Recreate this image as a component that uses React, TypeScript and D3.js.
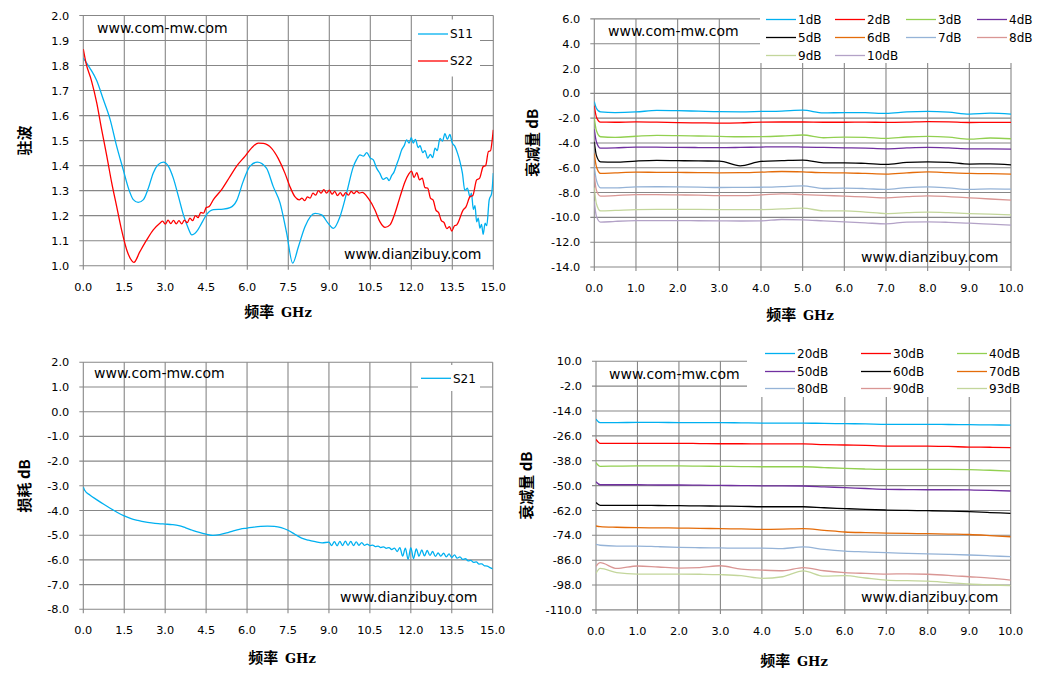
import React from 'react';
import * as d3 from 'd3';

// ---- data ----
const VSWR_X_TICKS = [0, 1.5, 3, 4.5, 6, 7.5, 9, 10.5, 12, 13.5, 15];
const VSWR_Y_TICKS = [1.0, 1.1, 1.2, 1.3, 1.4, 1.5, 1.6, 1.7, 1.8, 1.9, 2.0];
const LOSS_Y_TICKS = [2, 1, 0, -1, -2, -3, -4, -5, -6, -7, -8];
const ATT_X_TICKS = [0, 1, 2, 3, 4, 5, 6, 7, 8, 9, 10];
const ATT_LO_Y_TICKS = [6, 4, 2, 0, -2, -4, -6, -8, -10, -12, -14];
const ATT_HI_Y_TICKS = [10, -2, -14, -26, -38, -50, -62, -74, -86, -98, -110];

// S11 / S22 standing wave ratio, [GHz, VSWR]
const S11: [number, number][] = [
  [0, 1.83], [0.24, 1.79], [0.49, 1.74], [0.73, 1.665], [0.98, 1.585], [1.22, 1.478],
  [1.46, 1.384], [1.65, 1.31], [1.83, 1.264], [2.01, 1.253], [2.2, 1.264], [2.38, 1.31],
  [2.56, 1.371], [2.74, 1.404], [2.93, 1.414], [3.11, 1.398], [3.29, 1.351], [3.48, 1.277],
  [3.66, 1.204], [3.84, 1.15], [3.97, 1.123], [4.15, 1.137], [4.33, 1.17], [4.51, 1.204],
  [4.76, 1.224], [5.12, 1.226], [5.37, 1.232], [5.61, 1.26], [5.85, 1.337], [6.1, 1.398],
  [6.37, 1.414], [6.7, 1.39], [6.95, 1.316], [7.2, 1.25], [7.44, 1.13], [7.66, 1.01],
  [7.87, 1.076], [8.11, 1.156], [8.48, 1.209], [8.72, 1.203], [8.96, 1.169], [9.15, 1.149],
  [9.39, 1.196], [9.63, 1.289], [9.88, 1.396], [10.0, 1.425], [10.12, 1.443], [10.25, 1.438],
  [10.37, 1.452], [10.5, 1.43], [10.61, 1.423], [10.73, 1.39], [10.85, 1.369], [10.97, 1.345],
  [11.1, 1.352], [11.19, 1.34], [11.28, 1.36], [11.37, 1.375], [11.46, 1.403], [11.55, 1.43],
  [11.65, 1.463], [11.74, 1.48], [11.83, 1.503], [11.92, 1.49], [12.0, 1.512], [12.07, 1.49],
  [12.15, 1.505], [12.25, 1.472], [12.32, 1.48], [12.42, 1.452], [12.5, 1.46], [12.6, 1.43],
  [12.7, 1.445], [12.78, 1.432], [12.87, 1.47], [12.95, 1.46], [13.05, 1.509], [13.14, 1.498],
  [13.23, 1.528], [13.32, 1.505], [13.41, 1.525], [13.5, 1.49], [13.6, 1.476], [13.69, 1.45],
  [13.78, 1.416], [13.87, 1.37], [13.96, 1.3], [14.05, 1.31], [14.15, 1.275], [14.2, 1.29],
  [14.27, 1.225], [14.33, 1.24], [14.39, 1.175], [14.45, 1.19], [14.51, 1.15], [14.57, 1.165],
  [14.63, 1.125], [14.7, 1.17], [14.76, 1.16], [14.85, 1.263], [14.94, 1.289], [15, 1.37],
];
const S22: [number, number][] = [
  [0, 1.866], [0.1, 1.81], [0.3, 1.739], [0.49, 1.652], [0.67, 1.545], [0.86, 1.438],
  [1.04, 1.331], [1.22, 1.237], [1.4, 1.143], [1.59, 1.063], [1.77, 1.02], [1.85, 1.013],
  [2.07, 1.056], [2.32, 1.103], [2.56, 1.143], [2.8, 1.17], [2.9, 1.178], [3.0, 1.166],
  [3.1, 1.182], [3.2, 1.168], [3.3, 1.181], [3.4, 1.167], [3.5, 1.18], [3.6, 1.167],
  [3.7, 1.182], [3.8, 1.172], [3.9, 1.19], [4.0, 1.18], [4.1, 1.2], [4.2, 1.192],
  [4.3, 1.213], [4.4, 1.21], [4.5, 1.233], [4.6, 1.236], [4.76, 1.264], [5.06, 1.304],
  [5.37, 1.357], [5.61, 1.398], [5.92, 1.438], [6.16, 1.471], [6.4, 1.49], [6.59, 1.489],
  [6.89, 1.469], [7.13, 1.429], [7.38, 1.369], [7.56, 1.316], [7.74, 1.276], [7.9, 1.263],
  [8.0, 1.27], [8.1, 1.26], [8.2, 1.275], [8.3, 1.27], [8.4, 1.29], [8.5, 1.282],
  [8.6, 1.3], [8.7, 1.29], [8.8, 1.304], [8.9, 1.29], [9.0, 1.302], [9.1, 1.286],
  [9.2, 1.297], [9.3, 1.28], [9.4, 1.292], [9.5, 1.278], [9.6, 1.292], [9.7, 1.282],
  [9.8, 1.297], [9.9, 1.288], [10.0, 1.298], [10.1, 1.29], [10.2, 1.293], [10.43, 1.269],
  [10.67, 1.223], [10.85, 1.176], [11.04, 1.153], [11.22, 1.163], [11.4, 1.209], [11.59, 1.276],
  [11.77, 1.336], [11.9, 1.365], [12.01, 1.378], [12.1, 1.352], [12.2, 1.372], [12.3, 1.343],
  [12.4, 1.35], [12.5, 1.312], [12.6, 1.31], [12.7, 1.27], [12.8, 1.262], [12.9, 1.222],
  [13.0, 1.212], [13.1, 1.18], [13.2, 1.172], [13.3, 1.148], [13.4, 1.156], [13.48, 1.138],
  [13.58, 1.16], [13.66, 1.163], [13.9, 1.223], [14.0, 1.235], [14.15, 1.276], [14.25, 1.28],
  [14.39, 1.343], [14.5, 1.35], [14.63, 1.396], [14.72, 1.4], [14.82, 1.456], [14.9, 1.46],
  [14.96, 1.503], [15, 1.543],
];

// S21 insertion loss, [GHz, dB]
const S21: [number, number][] = [
  [0, -3.05], [0.05, -3.18], [0.25, -3.38], [0.5, -3.57], [0.75, -3.75], [1.0, -3.92],
  [1.25, -4.08], [1.5, -4.22], [1.75, -4.33], [2.0, -4.4], [2.25, -4.46], [2.5, -4.5],
  [2.75, -4.53], [3.0, -4.55], [3.25, -4.57], [3.5, -4.61], [3.75, -4.7], [4.0, -4.8],
  [4.25, -4.89], [4.5, -4.96], [4.75, -5.01], [5.0, -4.98], [5.25, -4.91], [5.5, -4.82],
  [5.75, -4.75], [6.0, -4.71], [6.25, -4.67], [6.5, -4.64], [6.75, -4.63], [7.0, -4.64],
  [7.25, -4.69], [7.5, -4.8], [7.75, -4.96], [8.0, -5.12], [8.25, -5.2], [8.5, -5.26],
  [8.75, -5.31], [9.0, -5.28], [9.1, -5.42], [9.2, -5.26], [9.3, -5.43], [9.4, -5.25],
  [9.5, -5.42], [9.6, -5.24], [9.7, -5.41], [9.8, -5.25], [9.9, -5.42], [10.0, -5.27],
  [10.1, -5.41], [10.2, -5.3], [10.3, -5.41], [10.4, -5.36], [10.5, -5.42], [10.6, -5.4],
  [10.7, -5.46], [10.8, -5.44], [10.9, -5.5], [11.0, -5.47], [11.1, -5.53], [11.2, -5.5],
  [11.3, -5.58], [11.4, -5.52], [11.5, -5.66], [11.6, -5.5], [11.7, -5.85], [11.8, -5.52],
  [11.9, -5.98], [12.0, -5.5], [12.1, -5.95], [12.2, -5.55], [12.3, -5.85], [12.4, -5.6],
  [12.5, -5.84], [12.6, -5.62], [12.7, -5.82], [12.8, -5.66], [12.9, -5.86], [13.0, -5.72],
  [13.1, -5.85], [13.2, -5.73], [13.3, -5.88], [13.4, -5.76], [13.5, -5.9], [13.6, -5.8],
  [13.7, -5.93], [13.8, -5.88], [13.9, -5.98], [14.0, -5.95], [14.1, -6.04], [14.2, -6.02],
  [14.3, -6.1], [14.4, -6.08], [14.5, -6.17], [14.6, -6.16], [14.7, -6.24], [14.8, -6.25],
  [14.9, -6.31], [15.0, -6.36],
];

// 1..10 dB attenuators
const ATT_LO_FREQ = [0, 0.05, 0.15, 0.5, 1, 1.5, 2, 2.5, 3, 3.5, 4, 4.5, 5, 5.5, 6, 6.5, 7, 7.5, 8, 8.5, 9, 9.5, 10];
const ATT_1DB = [-0.67, -1.2, -1.5, -1.55, -1.5, -1.38, -1.4, -1.44, -1.48, -1.49, -1.46, -1.43, -1.36, -1.58, -1.55, -1.56, -1.62, -1.5, -1.46, -1.52, -1.67, -1.6, -1.68];
const ATT_2DB = [-1.0, -1.9, -2.32, -2.33, -2.3, -2.32, -2.36, -2.38, -2.4, -2.38, -2.32, -2.31, -2.31, -2.33, -2.33, -2.32, -2.34, -2.32, -2.28, -2.3, -2.35, -2.34, -2.34];
const ATT_3DB = [-2.0, -3.0, -3.5, -3.55, -3.46, -3.39, -3.41, -3.44, -3.47, -3.5, -3.49, -3.44, -3.36, -3.58, -3.53, -3.55, -3.63, -3.52, -3.47, -3.53, -3.69, -3.6, -3.66];
const ATT_4DB = [-2.9, -3.9, -4.42, -4.4, -4.33, -4.34, -4.36, -4.37, -4.38, -4.36, -4.33, -4.31, -4.33, -4.36, -4.39, -4.42, -4.47, -4.4, -4.36, -4.4, -4.47, -4.48, -4.5];
const ATT_5DB = [-3.9, -5.0, -5.52, -5.55, -5.46, -5.41, -5.43, -5.45, -5.46, -5.84, -5.49, -5.43, -5.38, -5.6, -5.6, -5.65, -5.73, -5.57, -5.52, -5.57, -5.7, -5.68, -5.76];
const ATT_6DB = [-4.85, -5.9, -6.46, -6.41, -6.35, -6.37, -6.38, -6.39, -6.41, -6.4, -6.35, -6.3, -6.33, -6.4, -6.41, -6.46, -6.51, -6.41, -6.33, -6.4, -6.46, -6.48, -6.51];
const ATT_7DB = [-5.9, -7.0, -7.62, -7.62, -7.54, -7.53, -7.54, -7.56, -7.59, -7.58, -7.57, -7.52, -7.46, -7.67, -7.64, -7.68, -7.75, -7.6, -7.54, -7.62, -7.75, -7.7, -7.73];
const ATT_8DB = [-6.6, -7.8, -8.29, -8.24, -8.16, -8.17, -8.19, -8.21, -8.24, -8.24, -8.19, -8.1, -8.16, -8.22, -8.29, -8.35, -8.42, -8.33, -8.26, -8.32, -8.42, -8.52, -8.61];
const ATT_9DB = [-7.6, -8.9, -9.48, -9.44, -9.37, -9.35, -9.35, -9.36, -9.37, -9.38, -9.37, -9.32, -9.26, -9.47, -9.48, -9.57, -9.69, -9.62, -9.58, -9.62, -9.69, -9.73, -9.8];
const ATT_10DB = [-8.7, -9.9, -10.39, -10.32, -10.26, -10.26, -10.26, -10.27, -10.28, -10.29, -10.28, -10.17, -10.2, -10.28, -10.36, -10.44, -10.52, -10.38, -10.36, -10.4, -10.47, -10.55, -10.63];

// 20..93 dB attenuators
const ATT_HI_FREQ = [0, 0.1, 0.5, 1, 1.5, 2, 2.5, 3, 3.5, 4, 4.5, 5, 5.5, 6, 6.5, 7, 7.5, 8, 8.5, 9, 9.5, 10];
const ATT_20DB = [-17.9, -19.6, -19.6, -19.5, -19.5, -19.6, -19.6, -19.6, -19.7, -19.8, -19.8, -19.8, -20.0, -20.1, -20.2, -20.4, -20.4, -20.4, -20.5, -20.6, -20.7, -20.8];
const ATT_30DB = [-27.7, -29.6, -29.6, -29.6, -29.6, -29.6, -29.7, -29.8, -29.8, -29.9, -29.9, -29.9, -30.2, -30.4, -30.6, -30.9, -30.9, -30.9, -31.1, -31.4, -31.5, -31.7];
const ATT_40DB = [-38.9, -40.7, -40.6, -40.5, -40.5, -40.5, -40.6, -40.7, -40.8, -40.9, -40.9, -40.9, -41.3, -41.7, -42.0, -42.2, -42.2, -42.2, -42.2, -42.3, -42.6, -43.0];
const ATT_50DB = [-48.1, -49.6, -49.6, -49.6, -49.7, -49.7, -49.8, -49.9, -50.0, -50.1, -50.1, -50.2, -50.6, -51.0, -51.4, -51.8, -51.9, -52.0, -52.0, -52.1, -52.3, -52.6];
const ATT_60DB = [-58.2, -59.5, -59.5, -59.5, -59.6, -59.7, -59.8, -59.9, -60.0, -60.2, -60.2, -60.2, -60.7, -61.1, -61.5, -61.8, -62.0, -62.1, -62.3, -62.6, -63.0, -63.4];
const ATT_70DB = [-69.5, -69.8, -70.1, -70.3, -70.4, -70.5, -70.6, -70.8, -70.9, -71.1, -71.0, -70.8, -71.6, -72.4, -72.7, -72.9, -73.1, -73.2, -73.4, -73.6, -74.1, -74.7];
const ATT_80DB = [-78.4, -78.8, -79.2, -79.2, -79.5, -79.8, -80.0, -80.1, -80.2, -80.2, -80.4, -79.6, -80.8, -81.6, -82.0, -82.4, -82.7, -83.0, -83.2, -83.5, -83.9, -84.3];
const ATT_90DB = [-89.0, -87.2, -90.0, -88.8, -89.3, -89.8, -89.6, -88.7, -90.3, -90.8, -91.1, -89.6, -91.1, -92.0, -92.4, -92.7, -92.6, -92.8, -93.3, -94.0, -94.7, -95.6];
const ATT_93DB = [-92.4, -90.0, -92.0, -92.7, -92.7, -92.7, -92.8, -93.0, -93.5, -94.8, -94.0, -91.2, -93.7, -93.5, -94.6, -95.6, -95.9, -96.1, -96.8, -97.5, -97.9, -98.3];

// ---- drawing ----
const GRID = '#878787';
const SANS = '"DejaVu Sans", Verdana, sans-serif';
const CJK = '"Noto Sans CJK SC", sans-serif';

type Series = { name: string; color: string; points: [number, number][] };
type LegendItem = { x: number; y: number };

type PanelProps = {
  id: string;
  left: number; right: number; top: number; bottom: number;
  xTicks: number[]; yTicks: number[];
  series: Series[];
  legendSlots: LegendItem[];
  legendBox: [number, number, number, number];
  yTitle: string; yTitleX: number;
  xTitleX: number; xTitleY: number;
  mark1: [number, number]; mark2: [number, number];
};

const zipFreq = (f: number[], v: number[]) => f.map((x, i) => [x, v[i]] as [number, number]);

const Panel = (p: PanelProps) => {
  const x = d3.scaleLinear().domain(d3.extent(p.xTicks) as [number, number]).range([p.left, p.right]);
  const y = d3.scaleLinear().domain(d3.extent(p.yTicks) as [number, number]).range([p.bottom, p.top]);
  const line = d3.line<[number, number]>().x(d => x(d[0])).y(d => y(d[1])).curve(d3.curveMonotoneX);
  const midY = (p.top + p.bottom) / 2;
  const [bx, by, bw, bh] = p.legendBox;
  return (
    <g>
      <clipPath id={`clip-${p.id}`}>
        <rect x={p.left} y={p.top - 2} width={p.right - p.left} height={p.bottom - p.top + 4} />
      </clipPath>
      {p.yTicks.map(t => (
        <line key={`h${t}`} x1={p.left - 4} x2={p.right} y1={y(t)} y2={y(t)} stroke={GRID} strokeWidth={1.1} />
      ))}
      {p.xTicks.map(t => (
        <line key={`v${t}`} x1={x(t)} x2={x(t)} y1={p.top} y2={p.bottom + 4} stroke={GRID} strokeWidth={1.1} />
      ))}
      <g clipPath={`url(#clip-${p.id})`}>
        {p.series.map(s => (
          <path key={s.name} d={line(s.points) ?? ''} fill="none" stroke={s.color} strokeWidth={1.3} />
        ))}
      </g>
      <rect x={bx} y={by} width={bw} height={bh} fill="#fff" />
      {p.series.map((s, i) => {
        const slot = p.legendSlots[i];
        return (
          <g key={`lg${s.name}`}>
            <line x1={slot.x} x2={slot.x + 30} y1={slot.y} y2={slot.y} stroke={s.color} strokeWidth={1.3} />
            <text x={slot.x + 32} y={slot.y} dy="0.36em" fontFamily={SANS} fontSize={12} fill="#000">{s.name}</text>
          </g>
        );
      })}
      {p.yTicks.map(t => (
        <text key={`yl${t}`} x={p.left - 14} y={y(t)} dy="0.36em" textAnchor="end" fontFamily={SANS} fontSize={11.3} fill="#000">
          {t.toFixed(1)}
        </text>
      ))}
      {p.xTicks.map(t => (
        <text key={`xl${t}`} x={x(t)} y={p.bottom + 25} textAnchor="middle" fontFamily={SANS} fontSize={11.3} fill="#000">
          {t.toFixed(1)}
        </text>
      ))}
      <text x={p.xTitleX} y={p.xTitleY} textAnchor="middle" fontWeight="bold" fontSize={15} fill="#000" style={{ whiteSpace: 'pre' }}>
        <tspan fontFamily={CJK}>频率  </tspan>
        <tspan fontFamily='"DejaVu Serif", serif' fontSize={13}>GHz</tspan>
      </text>
      <text transform={`translate(${p.yTitleX},${midY}) rotate(-90)`} textAnchor="middle" dy="0.36em"
        fontFamily={CJK} fontWeight="bold" fontSize={15} fill="#000">
        {p.yTitle}
      </text>
      <text x={p.mark1[0]} y={p.mark1[1]} fontFamily={SANS} fontSize={14} fill="#000">www.com-mw.com</text>
      <text x={p.mark2[0]} y={p.mark2[1]} fontFamily={SANS} fontSize={14} fill="#000">www.dianzibuy.com</text>
    </g>
  );
};

const lowSeries: Series[] = [
  { name: '1dB', color: '#00B0F0', points: zipFreq(ATT_LO_FREQ, ATT_1DB) },
  { name: '2dB', color: '#FF0000', points: zipFreq(ATT_LO_FREQ, ATT_2DB) },
  { name: '3dB', color: '#92D050', points: zipFreq(ATT_LO_FREQ, ATT_3DB) },
  { name: '4dB', color: '#7030A0', points: zipFreq(ATT_LO_FREQ, ATT_4DB) },
  { name: '5dB', color: '#000000', points: zipFreq(ATT_LO_FREQ, ATT_5DB) },
  { name: '6dB', color: '#E46C0A', points: zipFreq(ATT_LO_FREQ, ATT_6DB) },
  { name: '7dB', color: '#95B3D7', points: zipFreq(ATT_LO_FREQ, ATT_7DB) },
  { name: '8dB', color: '#D99694', points: zipFreq(ATT_LO_FREQ, ATT_8DB) },
  { name: '9dB', color: '#C3D69B', points: zipFreq(ATT_LO_FREQ, ATT_9DB) },
  { name: '10dB', color: '#B3A2C7', points: zipFreq(ATT_LO_FREQ, ATT_10DB) },
];

const highSeries: Series[] = [
  { name: '20dB', color: '#00B0F0', points: zipFreq(ATT_HI_FREQ, ATT_20DB) },
  { name: '30dB', color: '#FF0000', points: zipFreq(ATT_HI_FREQ, ATT_30DB) },
  { name: '40dB', color: '#92D050', points: zipFreq(ATT_HI_FREQ, ATT_40DB) },
  { name: '50dB', color: '#7030A0', points: zipFreq(ATT_HI_FREQ, ATT_50DB) },
  { name: '60dB', color: '#000000', points: zipFreq(ATT_HI_FREQ, ATT_60DB) },
  { name: '70dB', color: '#E46C0A', points: zipFreq(ATT_HI_FREQ, ATT_70DB) },
  { name: '80dB', color: '#95B3D7', points: zipFreq(ATT_HI_FREQ, ATT_80DB) },
  { name: '90dB', color: '#D99694', points: zipFreq(ATT_HI_FREQ, ATT_90DB) },
  { name: '93dB', color: '#C3D69B', points: zipFreq(ATT_HI_FREQ, ATT_93DB) },
];

// legend slot grids (4 columns on the 1-10 dB chart, 3 on the 20-93 dB chart)
const lowCols = [766, 835, 906, 977];
const lowRows = [19.5, 37.5, 55.5];
const highCols = [765, 861, 957];
const highRows = [353.5, 371.5, 388.5];

export default function App() {
  return (
    <svg width={1051} height={673} style={{ position: 'absolute', left: 0, top: 0, background: '#fff' }}>
      <rect width={1051} height={673} fill="#fff" />
      <Panel
        id="vswr" left={83.3} right={493.3} top={15.5} bottom={265.7}
        xTicks={VSWR_X_TICKS} yTicks={VSWR_Y_TICKS}
        series={[{ name: 'S11', color: '#00B0F0', points: S11 }, { name: 'S22', color: '#FF0000', points: S22 }]}
        legendSlots={[{ x: 418, y: 34 }, { x: 418, y: 61 }]}
        legendBox={[412, 19.5, 68, 57]}
        yTitle="驻波" yTitleX={25}
        xTitleX={278} xTitleY={317}
        mark1={[97, 33]} mark2={[344, 259]}
      />
      <Panel
        id="loss" left={83.3} right={492.7} top={362.3} bottom={609.3}
        xTicks={VSWR_X_TICKS} yTicks={LOSS_Y_TICKS}
        series={[{ name: 'S21', color: '#00B0F0', points: S21 }]}
        legendSlots={[{ x: 421, y: 378.3 }]}
        legendBox={[418, 365, 62, 26]}
        yTitle="损耗 dB" yTitleX={25}
        xTitleX={282} xTitleY={663}
        mark1={[94, 378]} mark2={[340, 602]}
      />
      <Panel
        id="low" left={594.3} right={1011} top={18.9} bottom={267}
        xTicks={ATT_X_TICKS} yTicks={ATT_LO_Y_TICKS}
        series={lowSeries}
        legendSlots={lowSeries.map((_, i) => ({ x: lowCols[i % 4], y: lowRows[Math.floor(i / 4)] }))}
        legendBox={[760, 0, 291, 63]}
        yTitle="衰减量 dB" yTitleX={533}
        xTitleX={800} xTitleY={320}
        mark1={[608, 36]} mark2={[861, 262]}
      />
      <Panel
        id="high" left={596} right={1010.7} top={361.3} bottom={609.9}
        xTicks={ATT_X_TICKS} yTicks={ATT_HI_Y_TICKS}
        series={highSeries}
        legendSlots={highSeries.map((_, i) => ({ x: highCols[i % 3], y: highRows[Math.floor(i / 3)] }))}
        legendBox={[747, 340, 304, 57]}
        yTitle="衰减量 dB" yTitleX={527}
        xTitleX={794} xTitleY={666}
        mark1={[609, 379]} mark2={[861, 602]}
      />
    </svg>
  );
}
